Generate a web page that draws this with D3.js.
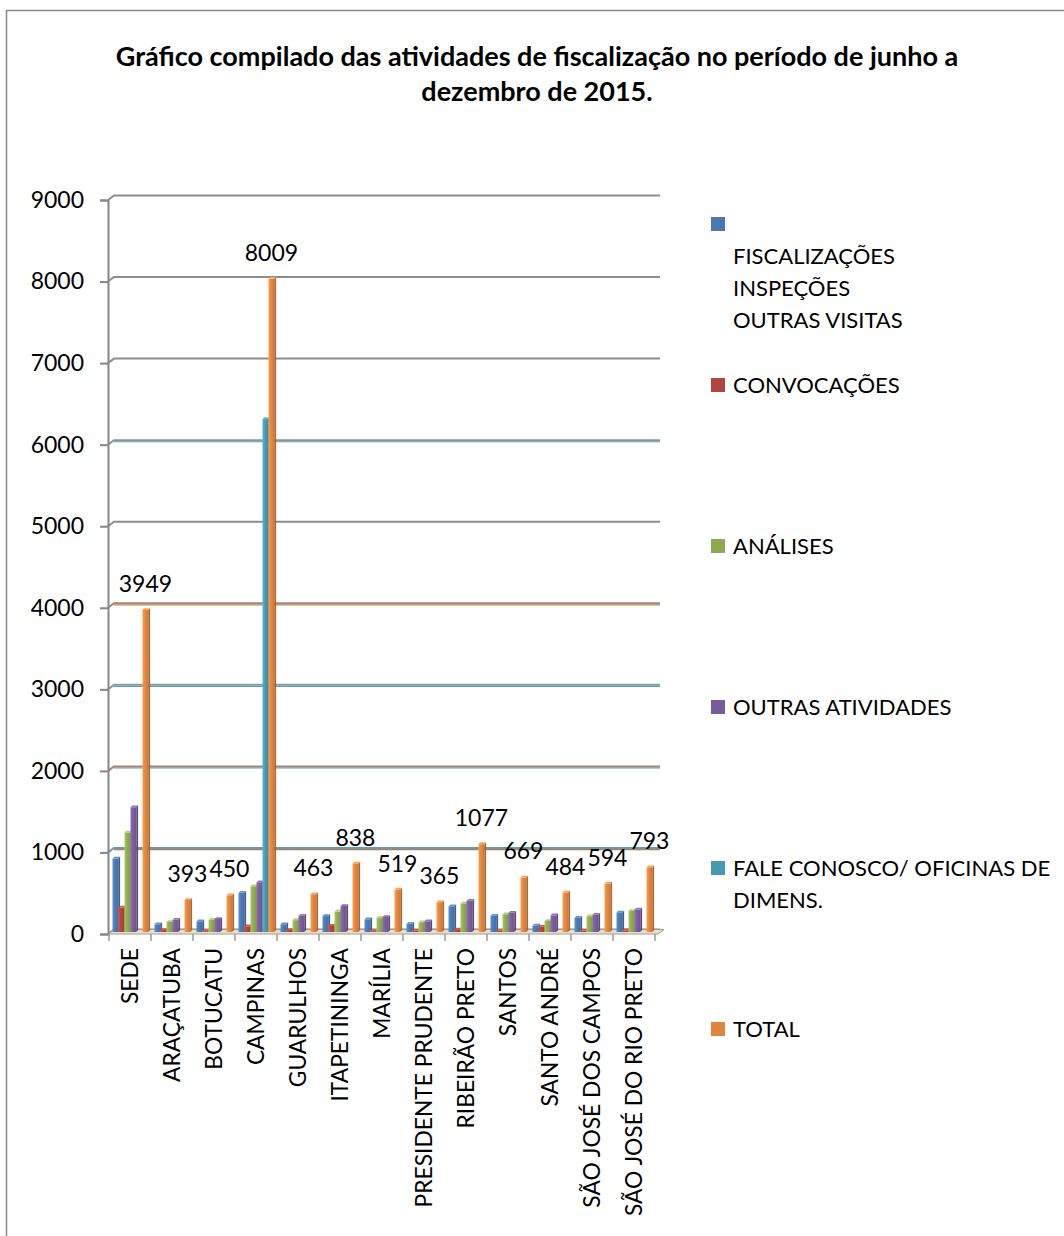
<!DOCTYPE html>
<html>
<head>
<meta charset="utf-8">
<script src="https://cdn.jsdelivr.net/npm/d3@7"></script>
<style>
  html, body { margin: 0; padding: 0; background: #fff; }
  svg { display: block; }
  text { font-family: Lato, "Open Sans", sans-serif; fill: #000; }
</style>
</head>
<body>
<script>
// Regional offices
const categories = ["SEDE", "ARAÇATUBA", "BOTUCATU", "CAMPINAS", "GUARULHOS", "ITAPETININGA",
  "MARÍLIA", "PRESIDENTE PRUDENTE", "RIBEIRÃO PRETO", "SANTOS", "SANTO ANDRÉ",
  "SÃO JOSÉ DOS CAMPOS", "SÃO JOSÉ DO RIO PRETO"];

// Series names (line breaks as shown in the legend)
const seriesNames = ["\nFISCALIZAÇÕES\nINSPEÇÕES\nOUTRAS VISITAS", "CONVOCAÇÕES", "ANÁLISES",
  "OUTRAS ATIVIDADES", "FALE CONOSCO/ OFICINAS DE\nDIMENS.", "TOTAL"];

// Values per series, one entry per office
const fiscalizacoes = [900, 95, 130, 480, 95, 195, 155, 100, 315, 200, 80, 175, 240];
const convocacoes   = [300, 25, 10, 70, 25, 75, 10, 15, 30, 15, 65, 15, 20];
const analises      = [1220, 123, 150, 560, 145, 250, 170, 120, 350, 218, 135, 193, 258];
const outras        = [1529, 150, 160, 610, 198, 318, 184, 130, 382, 236, 204, 211, 275];
const faleConosco   = [0, 0, 0, 6289, 0, 0, 0, 0, 0, 0, 0, 0, 0];
const total         = [3949, 393, 450, 8009, 463, 838, 519, 365, 1077, 669, 484, 594, 793];

const yTicks = [0, 1000, 2000, 3000, 4000, 5000, 6000, 7000, 8000, 9000];

const seriesValues = [fiscalizacoes, convocacoes, analises, outras, faleConosco, total];
const seriesColors = ["#4a78b0", "#b0443f", "#8eaa50", "#775c9a", "#4599b2", "#e0843e"];

// two-tone accents on the back-wall gridlines
const gridAccent = {1000: ["#5b9db3", "#b57a55"], 2000: ["#a8826a", "#5b9db3"], 3000: ["#8a9ca0", "#5b9db3"],
  4000: ["#9a8a80", "#c88352"], 6000: ["#8c9498", "#5b9db3"]};

const W = 1064, H = 1236;
const svg = d3.select("body").append("svg").attr("width", W).attr("height", H);

// chart frame
svg.append("rect").attr("x", 6.5).attr("y", 10.5).attr("width", W + 20).attr("height", H + 20)
  .attr("fill", "none").attr("stroke", "#8a8a8a").attr("stroke-width", 1.5);

// title
const title = svg.append("text").attr("text-anchor", "middle").attr("font-weight", "bold")
  .attr("font-size", 27);
title.append("tspan").attr("x", 537).attr("y", 66)
  .text("Gráfico compilado das atividades de fiscalização no período de junho a");
title.append("tspan").attr("x", 537).attr("y", 101).text("dezembro de 2015.");

const axisX = 108, plotRight = 655;
const y = d3.scaleLinear().domain([0, 9000]).range([932, 198]);
const x = d3.scaleBand().domain(categories).range([109, plotRight]).padding(0);
const inner = d3.scaleBand().domain(d3.range(seriesNames.length)).range([3.5, 39.5]).padding(0);

const depth = 6;

// back-wall gridlines
const grid = svg.append("g");
yTicks.forEach(t => {
  const yt = y(t) + 2, yg = y(t) - 2.5;
  const acc = gridAccent[t];
  grid.append("polyline")
    .attr("points", `${axisX},${yt} ${axisX + depth},${yg} ${plotRight + 5},${yg}`)
    .attr("fill", "none").attr("stroke", acc ? acc[0] : "#8c8c8c").attr("stroke-width", 2);
  if (acc) {
    grid.append("line").attr("x1", axisX + depth).attr("x2", plotRight + 5)
      .attr("y1", yg + 1.6).attr("y2", yg + 1.6)
      .attr("stroke", acc[1]).attr("stroke-width", 1.2);
  }
});

// floor
svg.append("polygon")
  .attr("points", `${axisX},${y(0) + 2} ${plotRight + 3},${y(0) + 2} ${plotRight + 9},${y(0) - 2.5} ${axisX + depth},${y(0) - 2.5}`)
  .attr("fill", "#e4e1d4").attr("stroke", "#a39c82").attr("stroke-width", 1);

// y axis
const yAxis = d3.axisLeft(y).tickValues(yTicks).tickFormat(d3.format("d")).tickSize(8).tickPadding(16);
const ya = svg.append("g").attr("transform", `translate(${axisX},2)`).call(yAxis);
ya.select(".domain").attr("stroke", "#868686").attr("stroke-width", 2);
ya.selectAll(".tick line").attr("stroke", "#868686").attr("stroke-width", 2);
ya.selectAll(".tick text").attr("font-size", 23).attr("font-family", "Lato, sans-serif")
  .attr("fill", "#000");

// x axis ticks at band boundaries
const xa = svg.append("g");
categories.concat([null]).forEach((c, i) => {
  const bx = 109 + i * x.bandwidth();
  xa.append("line").attr("x1", bx).attr("x2", bx).attr("y1", y(0) + 2).attr("y2", y(0) + 9)
    .attr("stroke", "#9a9a9a").attr("stroke-width", 1.5);
});

// gradients for 3D bar shading
const defs = svg.append("defs");
seriesColors.forEach((c, i) => {
  const g = defs.append("linearGradient").attr("id", "g" + i).attr("x1", 0).attr("x2", 1).attr("y1", 0).attr("y2", 0);
  const col = d3.color(c);
  g.append("stop").attr("offset", "0%").attr("stop-color", col.brighter(0.5));
  g.append("stop").attr("offset", "35%").attr("stop-color", col.brighter(0.15));
  g.append("stop").attr("offset", "100%").attr("stop-color", col.darker(0.25));
});

// bars
const bars = svg.append("g");
const fw = 5.8, sd = 1.8;
categories.forEach((c, ci) => {
  seriesValues.forEach((vals, si) => {
    const v = vals[ci];
    if (!v) return;
    const x0 = x(c) + inner(si);
    const top = y(v), bot = y(0);
    const col = d3.color(seriesColors[si]);
    bars.append("rect").attr("x", x0).attr("y", top).attr("width", fw).attr("height", bot - top)
      .attr("fill", `url(#g${si})`);
    bars.append("polygon")
      .attr("points", `${x0 + fw},${top} ${x0 + fw + sd},${top - sd} ${x0 + fw + sd},${bot - sd} ${x0 + fw},${bot}`)
      .attr("fill", col.darker(0.7));
    bars.append("polygon")
      .attr("points", `${x0},${top} ${x0 + sd},${top - sd} ${x0 + fw + sd},${top - sd} ${x0 + fw},${top}`)
      .attr("fill", col.brighter(0.6));
  });
});

// value labels on the total bars
const totalIdx = seriesNames.length - 1;
svg.append("g").selectAll("text").data(categories).join("text")
  .attr("x", (c) => x(c) + inner(totalIdx) + fw / 2)
  .attr("y", (c, i) => y(total[i]) - 18)
  .attr("text-anchor", "middle").attr("font-size", 23)
  .text((c, i) => total[i]);

// category labels
svg.append("g").selectAll("text").data(categories).join("text")
  .attr("transform", c => `translate(${x(c) + x.bandwidth() / 2},948) rotate(-90)`)
  .attr("text-anchor", "end").attr("dy", "0.35em").attr("font-size", 22.8)
  .text(c => c);

// legend
const legend = svg.append("g");
const lineH = 32;
seriesNames.forEach((name, i) => {
  const cy = 224 + i * 161;
  legend.append("rect").attr("x", 711).attr("y", cy - 7).attr("width", 14).attr("height", 14)
    .attr("fill", seriesColors[i]);
  name.split("\n").forEach((line, li) => {
    legend.append("text").attr("x", 733).attr("y", cy + li * lineH).attr("dy", "0.36em")
      .attr("font-size", 22).text(line);
  });
});
</script>
</body>
</html>
